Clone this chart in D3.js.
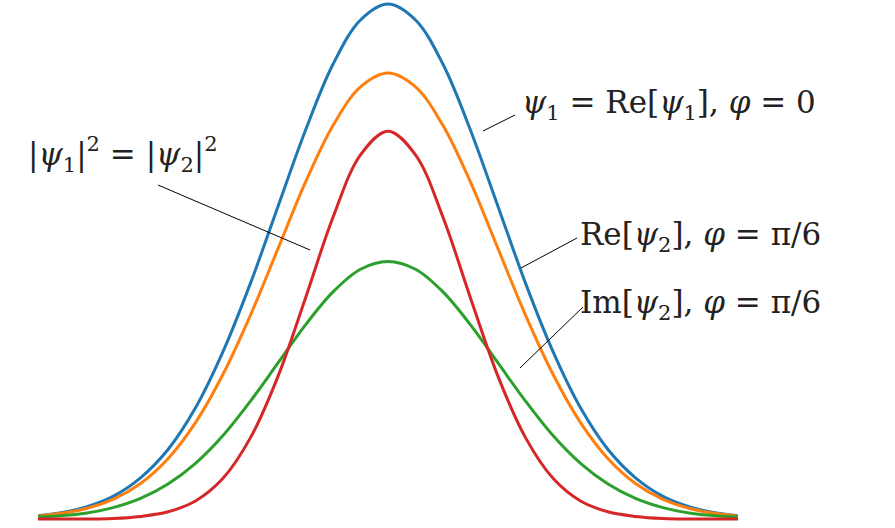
<!DOCTYPE html>
<html><head><meta charset="utf-8">
<script src="https://cdn.jsdelivr.net/npm/d3@7.9.0/dist/d3.min.js"></script>
<style>body{margin:0;background:#fff}text{font-family:"DejaVu Serif","Liberation Serif",serif;font-size:31px;fill:#222}</style>
</head><body><svg id="chart" width="895" height="528"></svg>
<script>
const xs = d3.range(-14, 15).map(i => i * 0.25);
const blue = [.002,.005,.011,.023,.044,.080,.135,.216,.325,.458,.607,.755,.883,.969,1,.969,.883,.755,.607,.458,.325,.216,.135,.080,.044,.023,.011,.005,.002];
const orange = [.002,.004,.010,.020,.038,.069,.117,.187,.281,.396,.525,.654,.764,.839,.866,.839,.764,.654,.525,.396,.281,.187,.117,.069,.038,.020,.010,.004,.002];
const green = [.001,.003,.006,.011,.022,.040,.068,.108,.162,.229,.303,.377,.441,.485,.5,.485,.441,.377,.303,.229,.162,.108,.068,.040,.022,.011,.006,.003,.001];
const red = [0,0,0,0,.001,.005,.014,.035,.079,.158,.277,.429,.586,.707,.753,.707,.586,.429,.277,.158,.079,.035,.014,.005,.001,0,0,0,0];
const series = [
  {v: blue, c: '#1f77b4'},
  {v: orange, c: '#ff7f0e'},
  {v: green, c: '#2ca02c'},
  {v: red, c: '#d62728'}
];

const svg = d3.select('#chart');
svg.append('clipPath').attr('id', 'clip').append('rect')
  .attr('x', 38).attr('y', 0).attr('width', 700).attr('height', 528);
const x = d3.scaleLinear().domain([-3.5, 3.5]).range([3, 773]);
const y = d3.scaleLinear().domain([0, 1]).range([519, 4]);
const line = d3.line().x((d, i) => x(xs[i])).y(d => y(d)).curve(d3.curveCatmullRom);

const g = svg.append('g').attr('clip-path', 'url(#clip)');
series.forEach(s => {
  g.append('path').attr('d', line(s.v)).attr('fill', 'none')
    .attr('stroke', s.c).attr('stroke-width', 3);
});

// leader lines
const leaders = [[483,131,515,115],[521,268,577,238],[520,368,583,307],[158,185,310,250]];
svg.selectAll('line.lead').data(leaders).join('line')
  .attr('x1', d => d[0]).attr('y1', d => d[1]).attr('x2', d => d[2]).attr('y2', d => d[3])
  .attr('stroke', '#000').attr('stroke-width', 1);

function label(xp, yp, parts) {
  const t = svg.append('text').attr('x', xp).attr('y', yp);
  parts.forEach(p => {
    const ts = t.append('tspan').text(p.t);
    if (p.i) ts.attr('font-style', 'italic');
    if (p.sub) ts.attr('font-size', 21).attr('dy', 7);
    if (p.sup) ts.attr('font-size', 21).attr('dy', -14);
    if (p.back) ts.attr('dy', p.back);
  });
}
label(522, 113, [{t:'ψ', i:1},{t:'1', sub:1},{t:' = Re[', back:-7},{t:'ψ', i:1},{t:'1', sub:1},{t:'], ', back:-7},{t:'φ', i:1},{t:' = 0'}]);
label(580, 245, [{t:'Re['},{t:'ψ', i:1},{t:'2', sub:1},{t:'], ', back:-7},{t:'φ', i:1},{t:' = π/6'}]);
label(580, 313, [{t:'Im['},{t:'ψ', i:1},{t:'2', sub:1},{t:'], ', back:-7},{t:'φ', i:1},{t:' = π/6'}]);
label(28, 165, [{t:'|'},{t:'ψ', i:1},{t:'1', sub:1},{t:'|', back:-7},{t:'2', sup:1},{t:' = |', back:14},{t:'ψ', i:1},{t:'2', sub:1},{t:'|', back:-7},{t:'2', sup:1}]);
</script></body></html>
